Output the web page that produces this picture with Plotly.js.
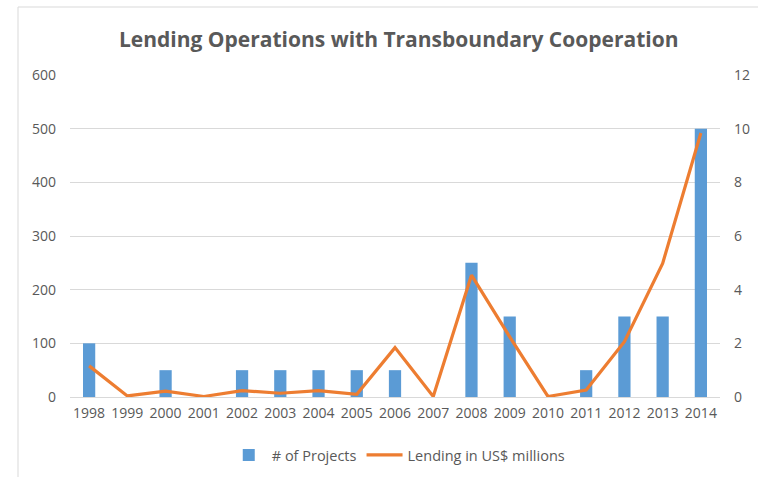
<!DOCTYPE html>
<html>
<head>
<meta charset="utf-8">
<script src="https://cdn.plot.ly/plotly-3.0.1.min.js"></script>
<style>html,body{margin:0;padding:0;background:#fff;}#chart{width:758px;height:477px;}</style>
</head>
<body>
<div id="chart"></div>
<script>
const years = ["1998","1999","2000","2001","2002","2003","2004","2005","2006","2007","2008","2009","2010","2011","2012","2013","2014"];
const projects = [2,0,1,0,1,1,1,1,1,0,5,3,0,1,3,3,10];
const lending = [58,2,11,1,12,7,12,5,92,1,227,112,1,13,103,249,492];
const leftTicks = [0,100,200,300,400,500,600];
const rightTicks = [0,2,4,6,8,10,12];

const FONT = "Open Sans, Noto Sans, sans-serif";
const GRAY = "#595959";

const traces = [
  {
    type: "bar", name: "# of Projects", x: years, y: projects, yaxis: "y",
    marker: {color: "#5b9bd5"}, hoverinfo: "skip"
  },
  {
    type: "scatter", mode: "lines", name: "Lending in US$ millions", x: years, y: lending, yaxis: "y2",
    line: {color: "#ed7d31", width: 3.2}, hoverinfo: "skip"
  }
];

const layout = {
  width: 758, height: 477,
  margin: {l: 70, r: 38, t: 75, b: 80, autoexpand: false},
  paper_bgcolor: "#fff", plot_bgcolor: "#fff",
  font: {family: FONT, color: GRAY, size: 13},
  title: {text: "<b>Lending Operations with Transboundary Cooperation</b>", font: {family: FONT, size: 21, color: GRAY},
          x: 0.526, xref: "container", xanchor: "center", y: 0.917, yref: "container", yanchor: "middle"},
  bargap: 0.68,
  showlegend: true,
  legend: {orientation: "h", x: 0.505, xanchor: "center", y: -0.18, yanchor: "middle",
           font: {family: FONT, size: 14.5, color: GRAY}, itemwidth: 36},
  xaxis: {type: "category", showgrid: false, showline: false, zeroline: false, ticks: "", tickangle: 0, automargin: false,
          tickfont: {family: FONT, size: 14, color: GRAY}, ticklabelstandoff: 6, fixedrange: true},
  yaxis: {side: "right", range: [0, 12], tickvals: rightTicks, ticktext: rightTicks.map(String), automargin: false,
          showgrid: true, gridcolor: "#d9d9d9", gridwidth: 1, zeroline: true, zerolinecolor: "#d9d9d9", zerolinewidth: 1,
          showline: false, ticks: "", tickfont: {family: FONT, size: 14, color: GRAY}, ticklabelstandoff: 13},
  yaxis2: {side: "left", overlaying: "y", range: [0, 600], tickvals: leftTicks, ticktext: leftTicks.map(String), automargin: false,
           showgrid: false, zeroline: false, showline: false, ticks: "",
           tickfont: {family: FONT, size: 14, color: GRAY}, ticklabelstandoff: 13},
  shapes: [
    {type: "line", xref: "paper", yref: "paper", x0: (18-70)/650, x1: (758-70)/650, y0: (397-7)/322, y1: (397-7)/322,
     line: {color: "#d9d9d9", width: 1}},
    {type: "line", xref: "paper", yref: "paper", x0: (18-70)/650, x1: (18-70)/650, y0: (397-7)/322, y1: (397-477)/322,
     line: {color: "#d9d9d9", width: 1}}
  ]
};

Plotly.newPlot("chart", traces, layout, {staticPlot: true, displayModeBar: false});
</script>
</body>
</html>
